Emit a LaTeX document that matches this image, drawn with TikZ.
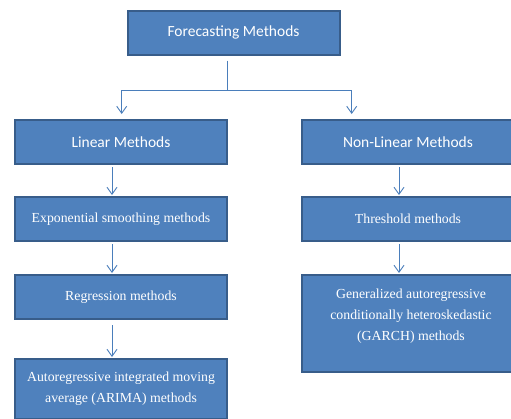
\documentclass[tikz,border=0pt]{standalone}
\usepackage{fontspec}
\setmainfont{Liberation Serif}
\newfontfamily\calib{Carlito}
\usetikzlibrary{arrows.meta,calc}
\definecolor{boxfill}{HTML}{4F81BD}
\definecolor{boxline}{HTML}{385D8A}
\definecolor{arrcol}{HTML}{4A7EBB}
\begin{document}
\begin{tikzpicture}[x=1pt,y=-1pt,
  box/.style={draw=boxline, line width=2pt, fill=boxfill, text=white, inner sep=0pt,
    minimum width=212pt, minimum height=44pt, align=center},
  headfont/.style={font=\calib\fontsize{15.5}{18}\selectfont},
  bodyfont/.style={font=\fontsize{13.8}{21}\selectfont},
  arr/.style={draw=arrcol, line width=0.9pt, -{Straight Barb[length=7pt,width=10pt,line width=0.9pt]}},
  conn/.style={draw=arrcol, line width=0.9pt}]
\useasboundingbox (0,0) rectangle (511,418);
\fill[white] (0,0) rectangle (511,418);

\node[box, headfont] (top) at (233.5,32.5) {Forecasting Methods};
\node[box, headfont] (lin) at (121,142) {Linear Methods};
\node[box, headfont] (nonlin) at (408,142) {Non-Linear Methods};
\node[box, bodyfont] (exp) at (121,219) {Exponential smoothing methods};
\node[box, bodyfont] (thr) at (408,219) {Threshold methods};
\node[box, bodyfont] (reg) at (121,297) {Regression methods};
\node[box, bodyfont, minimum height=60pt] (arima) at (121,389) {Autoregressive integrated moving\\average (ARIMA) methods};
\node[box, minimum height=97pt] (garch) at (408,323.5) {};
\node[bodyfont, text=white, align=center] (garcht) at ($(garch.center)+(3,-7)$) {Generalized autoregressive\\conditionally heteroskedastic\\(GARCH) methods};

% top split connector
\coordinate (split) at ($(top.south)+(-6,35)$);
\draw[conn] ([xshift=-6pt,yshift=-5pt]top.south) -- (split);
\draw[arr] (split) -| ([xshift=0.7pt,yshift=5pt]lin.north);
\draw[arr] (split) -| ([xshift=-56.3pt,yshift=5pt]nonlin.north);

% vertical arrows
\draw[arr] ([xshift=-9pt,yshift=-2pt]lin.south) -- ([xshift=-9pt,yshift=1pt]exp.north);
\draw[arr] ([xshift=-9pt,yshift=-2pt]exp.south) -- ([xshift=-9pt,yshift=1pt]reg.north);
\draw[arr] ([xshift=-9pt,yshift=-5pt]reg.south) -- ([xshift=-9pt,yshift=1pt]arima.north);
\draw[arr] ([xshift=-9pt,yshift=-2pt]nonlin.south) -- ([xshift=-9pt,yshift=1pt]thr.north);
\draw[arr] ([xshift=-9pt,yshift=-2pt]thr.south) -- ([xshift=-9pt,yshift=1pt]garch.north);
\end{tikzpicture}
\end{document}
